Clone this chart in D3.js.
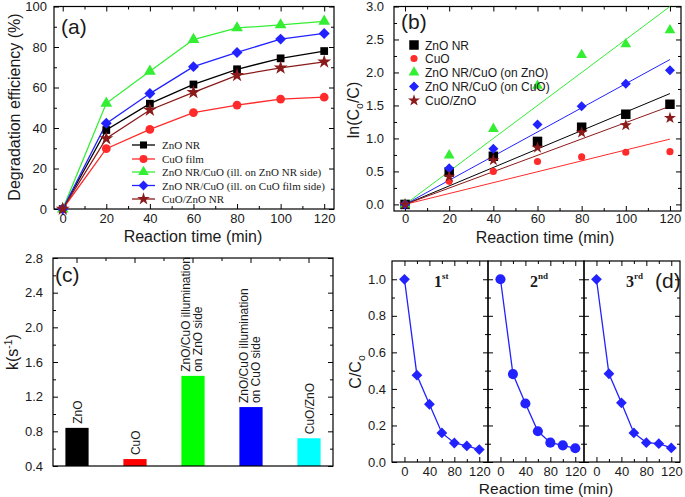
<!DOCTYPE html>
<html>
<head>
<meta charset="utf-8">
<script src="https://cdn.jsdelivr.net/npm/d3@7"></script>
<style>
body { margin: 0; background: #fff; }
svg { display: block; }
text { font-family: "Liberation Sans", Arial, sans-serif; fill: #1a1a1a; }
</style>
</head>
<body>
<div id="chart"></div>
<script>
// ---- data ----
const time = [0, 20, 40, 60, 80, 100, 120];

// (a) degradation efficiency (%)
const effZnO     = [0, 39, 52, 61.5, 69, 74.4, 78];
const effCuO     = [0, 29.8, 39.3, 47.6, 51.3, 54.3, 55.2];
const effZnOSide = [0, 52.2, 68, 83.7, 89.4, 90.9, 92.7];
const effCuOSide = [0, 42.3, 57, 70.3, 77.3, 83.9, 86.7];
const effCuOZnO  = [0, 34.8, 48.9, 57.6, 66, 69.7, 72.7];
const legendA = ["ZnO NR", "CuO film", "ZnO NR/CuO (ill. on ZnO NR side)",
                 "ZnO NR/CuO (ill. on CuO film side)", "CuO/ZnO NR"];

// (b) ln(Co/C) and the fitted slopes
const lnZnO     = [0, 0.49, 0.73, 0.955, 1.17, 1.367, 1.518];
const lnCuO     = [0, 0.35, 0.5, 0.65, 0.72, 0.79, 0.8];
const lnZnOSide = [0, 0.744, 1.146, 1.8, 2.266, 2.43, 2.64];
const lnCuOSide = [0, 0.548, 0.844, 1.21, 1.487, 1.83, 2.035];
const lnCuOZnO  = [0, 0.42, 0.67, 0.86, 1.09, 1.2, 1.31];
const fitSlope  = [0.014, 0.00825, 0.025, 0.0183, 0.0124];
const legendB = ["ZnO NR", "CuO", "ZnO NR/CuO (on ZnO)", "ZnO NR/CuO (on CuO)", "CuO/ZnO"];

// (c) rate constants
const barCats = ["ZnO", "CuO", "ZnO/CuO illumination|on ZnO side",
                 "ZnO/CuO illumination|on CuO side", "CuO/ZnO"];
const barVals = [0.84, 0.48, 1.44, 1.08, 0.72];

// (d) recycling runs, C/Co
const cycle1 = [1.0, 0.475, 0.316, 0.159, 0.104, 0.088, 0.068];
const cycle2 = [1.0, 0.481, 0.32, 0.168, 0.106, 0.091, 0.075];
const cycle3 = [1.0, 0.483, 0.324, 0.159, 0.106, 0.1, 0.077];
const cycleNames = [["1", "st"], ["2", "nd"], ["3", "rd"]];

const colors = ["#000000", "#ff2a2a", "#33ee33", "#2222ff", "#8b1a1a"];
const barColors = ["#000000", "#ff0000", "#00ff00", "#0000ff", "#00ffff"];
const shapes = [d3.symbolSquare, d3.symbolCircle, d3.symbolTriangle, d3.symbolSquare, d3.symbolStar];

const svg = d3.select("#chart").append("svg")
  .attr("width", 685).attr("height", 497);

// box with inward ticks on all four sides
function frame(g, x, y, o) {
  const [x0, x1] = x.range(), [y0, y1] = y.range();
  const put = (axis, tx, ty) => {
    const a = g.append("g").attr("transform", `translate(${tx},${ty})`).call(axis);
    a.select(".domain").remove();
    a.attr("font-size", 13).attr("font-family", null);
    a.selectAll("line").attr("stroke", "#000");
    return a;
  };
  const fmt = f => (f ? f : () => "");
  if (o.xMajor) {
    put(d3.axisBottom(x).tickValues(o.xMajor).tickSize(-5).tickPadding(o.xPad || 5).tickFormat(fmt(o.xFmt)), 0, y0);
    put(d3.axisTop(x).tickValues(o.xMajor).tickSize(-5).tickFormat(""), 0, y1);
  }
  if (o.xMinor) {
    put(d3.axisBottom(x).tickValues(o.xMinor).tickSize(-3).tickFormat(""), 0, y0);
    put(d3.axisTop(x).tickValues(o.xMinor).tickSize(-3).tickFormat(""), 0, y1);
  }
  put(d3.axisLeft(y).tickValues(o.yMajor).tickSize(-5).tickPadding(o.yPad || 7).tickFormat(fmt(o.yFmt)), x0, 0);
  put(d3.axisRight(y).tickValues(o.yMajor).tickSize(-5).tickFormat(""), x1, 0);
  put(d3.axisLeft(y).tickValues(o.yMinor).tickSize(-3).tickFormat(""), x0, 0);
  put(d3.axisRight(y).tickValues(o.yMinor).tickSize(-3).tickFormat(""), x1, 0);
  g.append("rect").attr("x", x0).attr("y", y1).attr("width", x1 - x0).attr("height", y0 - y1)
    .attr("fill", "none").attr("stroke", "#000").attr("stroke-width", 1.2);
}

function marker(g, i, size, cx, cy) {
  const rot = i === 3 ? 45 : 0;
  g.append("path")
    .attr("d", d3.symbol().type(shapes[i]).size(size)())
    .attr("transform", `translate(${cx},${cy}) rotate(${rot})`)
    .attr("fill", colors[i]);
}

// rotated title; parts are [text, dy, small?]
function yTitle(g, x, y, parts, size) {
  const t = g.append("text").attr("transform", `translate(${x},${y}) rotate(-90)`)
    .attr("text-anchor", "middle").attr("font-size", size);
  parts.forEach(p => {
    const s = t.append("tspan").text(p[0]);
    if (p[1]) s.attr("dy", p[1]);
    if (p[2]) s.attr("font-size", size * 0.65);
  });
  return t;
}

// ================= (a) =================
const gA = svg.append("g");
const xA = d3.scaleLinear().domain([-4, 124.5]).range([54, 334]);
const yA = d3.scaleLinear().domain([0, 100]).range([209, 6.5]);
frame(gA, xA, yA, {
  xMajor: d3.range(0, 121, 20), xMinor: d3.range(10, 121, 20), xFmt: d3.format("d"),
  yMajor: d3.range(0, 101, 20), yMinor: d3.range(10, 100, 20), yFmt: d3.format("d"), yPad: 7
});
const seriesA = [effZnO, effCuO, effZnOSide, effCuOSide, effCuOZnO];
const lineA = d3.line().x((d, i) => xA(time[i])).y(d => yA(d));
seriesA.forEach((s, k) => {
  gA.append("path").datum(s).attr("d", lineA)
    .attr("fill", "none").attr("stroke", colors[k]).attr("stroke-width", 1.3);
});
seriesA.forEach((s, k) => {
  s.forEach((d, i) => marker(gA, k, 60, xA(time[i]), yA(d)));
});
legendA.forEach((name, k) => {
  const yy = [145, 159, 172, 185.5, 199][k];
  gA.append("line").attr("x1", 132).attr("x2", 155).attr("y1", yy).attr("y2", yy)
    .attr("stroke", colors[k]).attr("stroke-width", 1.3);
  marker(gA, k, 50, 143.5, yy);
  gA.append("text").attr("x", 162).attr("y", yy + 4).attr("font-size", 11)
    .style("font-family", "'Liberation Serif', 'Times New Roman', serif").text(name);
});
gA.append("text").attr("x", 61).attr("y", 34).attr("font-size", 21).text("(a)");
yTitle(gA, 20, 107, [["Degradation efficiency (%)"]], 16);
gA.append("text").attr("x", 193).attr("y", 242).attr("text-anchor", "middle")
  .attr("font-size", 16).text("Reaction time (min)");

// ================= (b) =================
const gB = svg.append("g");
const xB = d3.scaleLinear().domain([-5, 125]).range([394, 681]);
const yB = d3.scaleLinear().domain([-0.1, 3.0]).range([211, 6.5]);
frame(gB, xB, yB, {
  xMajor: d3.range(0, 121, 20), xMinor: d3.range(10, 121, 20), xFmt: d3.format("d"), xPad: 3,
  yMajor: d3.range(0, 3.01, 0.5), yMinor: d3.range(0.25, 3, 0.5), yFmt: d3.format(".1f"), yPad: 10
});
const seriesB = [lnZnO, lnCuO, lnZnOSide, lnCuOSide, lnCuOZnO];
fitSlope.forEach((m, k) => {
  gB.append("line").attr("x1", xB(0)).attr("y1", yB(0))
    .attr("x2", xB(120)).attr("y2", yB(m * 120))
    .attr("stroke", colors[k]).attr("stroke-width", 1);
});
const sizeB = [90, 40, 50, 50, 45];
seriesB.forEach((s, k) => {
  s.forEach((d, i) => marker(gB, k, sizeB[k], xB(time[i]), yB(d)));
});
legendB.forEach((name, k) => {
  const yy = [45, 58.5, 72.5, 86.5, 100.5][k];
  marker(gB, k, sizeB[k], 414, yy);
  gB.append("text").attr("x", 425).attr("y", yy + 4.5).attr("font-size", 12).text(name);
});
gB.append("text").attr("x", 401).attr("y", 29).attr("font-size", 21).text("(b)");
yTitle(gB, 359, 110, [["ln(C"], ["o", "0.35em", true], ["/C)", "-0.23em"]], 16);
gB.append("text").attr("x", 545).attr("y", 243).attr("text-anchor", "middle")
  .attr("font-size", 16).text("Reaction time (min)");

// ================= (c) =================
const gC = svg.append("g");
const xC = d3.scaleBand().domain(barCats).range([48, 338]).paddingInner(0.6).paddingOuter(0.3);
const xCf = d3.scaleLinear().domain([0, 1]).range([53, 333]);
const yC = d3.scaleLinear().domain([0.4, 2.8]).range([466, 258]);
gC.selectAll("rect.bar").data(barVals).enter().append("rect").attr("class", "bar")
  .attr("x", (d, i) => xC(barCats[i]))
  .attr("y", d => yC(d))
  .attr("width", xC.bandwidth())
  .attr("height", d => yC(0.4) - yC(d))
  .attr("fill", (d, i) => barColors[i]);
frame(gC, xCf, yC, {
  yMajor: d3.range(0.4, 2.81, 0.4), yMinor: d3.range(0.6, 2.7, 0.4), yFmt: d3.format(".1f"), yPad: 10
});
// top ticks at bar centres and midpoints
const mids = barCats.map(c => xC(c) + xC.bandwidth() / 2);
mids.forEach((m, i) => {
  gC.append("line").attr("x1", m).attr("x2", m).attr("y1", 258).attr("y2", 263).attr("stroke", "#000");
  if (i < mids.length - 1) {
    const h = (m + mids[i + 1]) / 2;
    gC.append("line").attr("x1", h).attr("x2", h).attr("y1", 258).attr("y2", 261).attr("stroke", "#000");
  }
});
barCats.forEach((c, i) => {
  const lines = c.split("|");
  const cx = mids[i];
  const top = yC(barVals[i]) - 4;
  lines.forEach((ln, j) => {
    const bx = lines.length === 1 ? cx + 4.5 : cx - 3.5 + 12 * j;
    gC.append("text").attr("transform", `translate(${bx},${top}) rotate(-90)`)
      .attr("font-size", 12).text(ln);
  });
});
gC.append("text").attr("x", 55).attr("y", 282).attr("font-size", 21).text("(c)");
yTitle(gC, 18, 352, [["k(s"], ["-1", "-0.6em", true], [")", "0.39em"]], 16);

// ================= (d) =================
const gD = svg.append("g");
const yD = d3.scaleLinear().domain([0, 1.1]).range([462, 261]);
const runs = [cycle1, cycle2, cycle3];
const lefts = [392, 488, 584];
runs.forEach((run, r) => {
  const xD = d3.scaleLinear().domain([-20, 134]).range([lefts[r], lefts[r] + 96]);
  frame(gD, xD, yD, {
    xMajor: [0, 40, 80, 120], xMinor: [20, 60, 100], xFmt: d3.format("d"),
    yMajor: d3.range(0, 1.01, 0.2), yMinor: d3.range(0.1, 1.1, 0.2),
    yFmt: r === 0 ? d3.format(".1f") : null, yPad: 6
  });
  gD.append("path").datum(run)
    .attr("d", d3.line().x((d, i) => xD(time[i])).y(d => yD(d)))
    .attr("fill", "none").attr("stroke", "#2222ff").attr("stroke-width", 1.3);
  run.forEach((d, i) => {
    const isCircle = r === 1;
    gD.append("path")
      .attr("d", d3.symbol().type(isCircle ? d3.symbolCircle : d3.symbolSquare).size(isCircle ? 80 : 58)())
      .attr("transform", `translate(${xD(time[i])},${yD(d)}) rotate(${isCircle ? 0 : 45})`)
      .attr("fill", "#2222ff");
  });
  const lab = gD.append("text").attr("x", lefts[r] + 42).attr("y", 287)
    .style("font-family", "'Liberation Serif', 'Times New Roman', serif")
    .attr("font-weight", "bold").attr("font-size", 16);
  lab.append("tspan").text(cycleNames[r][0]);
  lab.append("tspan").attr("font-size", 9).attr("dy", "-0.9em").text(cycleNames[r][1]);
});
gD.append("text").attr("x", 655).attr("y", 288).attr("font-size", 21).text("(d)");
yTitle(gD, 361, 372, [["C/C"], ["o", "0.35em", true]], 16);
gD.append("text").attr("x", 546).attr("y", 494).attr("text-anchor", "middle")
  .attr("font-size", 15.5).text("Reaction time (min)");
</script>
</body>
</html>
